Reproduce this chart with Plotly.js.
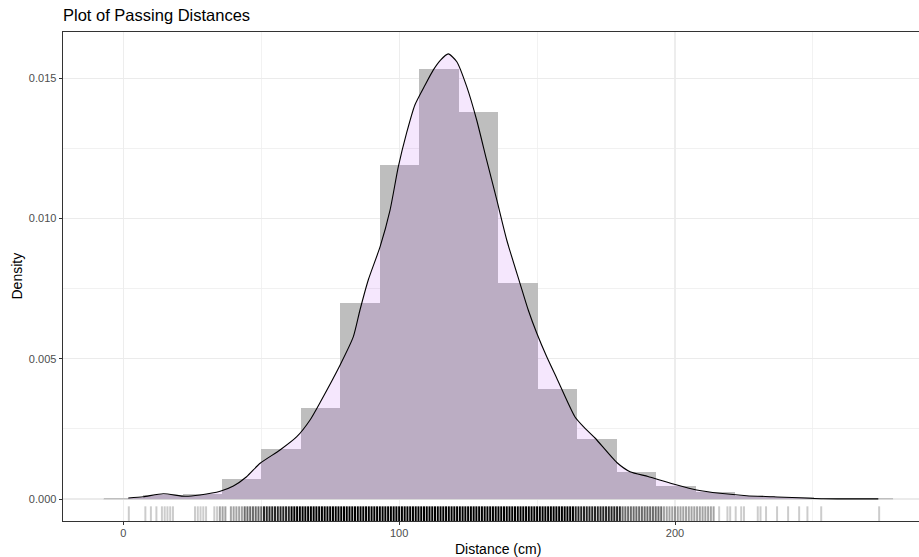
<!DOCTYPE html>
<html><head><meta charset="utf-8">
<script src="https://cdn.plot.ly/plotly-3.0.1.min.js"></script>
<style>html,body{margin:0;padding:0;background:#fff}#chart{width:919px;height:557px}</style>
</head><body><div id="chart"></div>
<script>
// ---- data ----
const binCenters = [0, 14.31, 28.62, 42.93, 57.24, 71.55, 85.86, 100.17, 114.48, 128.79, 143.10, 157.41, 171.72, 186.03, 200.34, 214.65, 228.96, 243.27, 257.58, 271.89];
const binDensity = [0.00003, 0.00016, 0.00018, 0.000714, 0.00178, 0.00324, 0.00699, 0.0119, 0.01532, 0.01379, 0.0077, 0.00393, 0.00214, 0.00095, 0.00046, 0.00024, 0.00012, 0.00006, 0.00003, 0.00003];
const binWidth = 14.31;

const densX = [1.8, 7.3, 14.5, 22.4, 27.8, 35.1, 39.9, 44.7, 49.6, 56.8, 62.9, 67.7, 71.3, 78.6, 83.4, 85.8, 88.8, 93.1, 96.7, 99.7, 102.7, 105.7, 109.4, 112.4, 115.0, 117.8, 120.9, 124.5, 128.1, 131.7, 135.4, 139.0, 143.8, 146.8, 149.9, 153.5, 157.1, 163.7, 166.8, 171.0, 178.9, 183.7, 190.2, 199.4, 207.9, 216.3, 226.0, 235.6, 253.8, 273.7];
const densY = [0.000036, 0.000082, 0.000189, 0.000096, 0.000143, 0.000275, 0.000464, 0.000795, 0.001273, 0.001747, 0.002221, 0.002817, 0.003434, 0.004778, 0.005787, 0.006739, 0.007808, 0.008996, 0.01030, 0.011848, 0.01305, 0.01405, 0.01476, 0.01530, 0.01565, 0.01587, 0.01559, 0.0147, 0.013513, 0.012087, 0.010661, 0.009235, 0.007691, 0.006739, 0.005908, 0.00507, 0.004314, 0.002934, 0.00258, 0.002175, 0.001301, 0.000973, 0.000802, 0.000535, 0.000321, 0.000203, 0.000118, 0.000082, 0.000011, 0.000005];

// rug values (cm), grouped by how dark the stacked rug looks
const rugLight = [2, 8, 10, 12, 14, 15, 16, 17, 18, 26, 27, 28, 29, 30, 33, 34, 216, 219, 220, 222, 224, 225, 230, 231, 233, 237, 241, 245, 248, 253, 274];
const rugPale = [35, 36, 37, 39, 40, 41, 42, 43, 196, 197, 198, 199, 200, 201, 202, 203, 204, 205, 206, 207, 208, 209, 210, 211, 212, 213, 214];
const rugGray = [44, 45, 46, 47, 48, 49, 50, 181, 182, 183, 184, 185, 186, 187, 188, 189, 190, 191, 192, 193, 194, 195];
const rugDark = [51, 52, 53, 54, 55, 56, 57, 58, 59, 60, 164, 165, 166, 167, 168, 169, 170, 171, 172, 173, 174, 175, 176, 177, 178, 179, 180];
const rugBlack = [61, 62, 63, 64, 65, 66, 67, 68, 69, 70, 71, 72, 73, 74, 75, 76, 77, 78, 79, 80, 81, 82, 83, 84, 85, 86, 87, 88, 89, 90, 91, 92, 93, 94, 95, 96, 97, 98, 99, 100, 101, 102, 103, 104, 105, 106, 107, 108, 109, 110, 111, 112, 113, 114, 115, 116, 117, 118, 119, 120, 121, 122, 123, 124, 125, 126, 127, 128, 129, 130, 131, 132, 133, 134, 135, 136, 137, 138, 139, 140, 141, 142, 143, 144, 145, 146, 147, 148, 149, 150, 151, 152, 153, 154, 155, 156, 157, 158, 159, 160, 161, 162, 163];

const xTicks = [0, 100, 200];
const yTicks = [0, 0.005, 0.010, 0.015];
const yTickText = ['0.000', '0.005', '0.010', '0.015'];

// ---- build ----
const FONT = 'Liberation Sans, Arial, Helvetica, sans-serif';

function rugTrace(vals, opacity) {
  const xs = [], ys = [];
  vals.forEach(v => { xs.push(v, v, null); ys.push(0, 0.03, null); });
  return {type: 'scatter', mode: 'lines', x: xs, y: ys, yaxis: 'y2',
    line: {color: 'rgba(0,0,0,' + opacity + ')', width: 2.0},
    hoverinfo: 'skip', showlegend: false};
}

const traces = [
  {type: 'bar', x: binCenters, y: binDensity, width: binWidth,
   marker: {color: '#BEBEBE', line: {width: 0}}, hoverinfo: 'skip', showlegend: false},
  {type: 'scatter', mode: 'lines',
   x: [binCenters[0] - binWidth / 2, binCenters[binCenters.length - 1] + binWidth / 2], y: [0, 0],
   line: {color: '#BEBEBE', width: 0.8}, hoverinfo: 'skip', showlegend: false},
  {type: 'scatter', mode: 'lines', x: densX, y: densY, fill: 'tozeroy',
   fillcolor: 'rgba(160,32,240,0.11)',
   line: {color: '#000000', width: 1.1, shape: 'spline', smoothing: 0.6},
   hoverinfo: 'skip', showlegend: false},
  rugTrace(rugLight, 0.2),
  rugTrace(rugPale, 0.36),
  rugTrace(rugGray, 0.58),
  rugTrace(rugDark, 0.85),
  rugTrace(rugBlack, 1.0)
];

const layout = {
  width: 919, height: 557,
  margin: {l: 63, r: 0, t: 32, b: 36, pad: 0},
  paper_bgcolor: '#FFFFFF', plot_bgcolor: '#FFFFFF',
  font: {family: FONT, color: '#000000'},
  showlegend: false, bargap: 0,
  title: {text: 'Plot of Passing Distances', font: {family: FONT, size: 16.5, color: '#000000'},
    xref: 'container', yref: 'container', x: 63 / 919, xanchor: 'left', y: 1 - 15.5 / 557, yanchor: 'middle'},
  xaxis: {
    range: [-21.86, 288.45], tickmode: 'array', tickvals: xTicks, ticktext: xTicks.map(String),
    ticks: 'outside', ticklen: 3.4, tickwidth: 1, tickcolor: '#333333', ticklabelstandoff: -2,
    tickfont: {family: FONT, size: 11, color: '#4D4D4D'},
    showgrid: true, gridcolor: '#EDEDED', gridwidth: 1.1,
    minor: {dtick: 50, tick0: 0, showgrid: true, gridcolor: '#EFEFEF', gridwidth: 0.8, ticks: ''},
    zeroline: false, showline: true, linecolor: '#333333', linewidth: 1, mirror: true,
    fixedrange: true
  },
  yaxis: {
    range: [-0.000784, 0.01665], tickmode: 'array', tickvals: yTicks, ticktext: yTickText,
    ticks: 'outside', ticklen: 3.4, tickwidth: 1, tickcolor: '#333333',
    tickfont: {family: FONT, size: 11, color: '#4D4D4D'},
    showgrid: true, gridcolor: '#EBEBEB', gridwidth: 1.1,
    minor: {dtick: 0.0025, tick0: 0, showgrid: true, gridcolor: '#EDEDED', gridwidth: 0.8, ticks: ''},
    zeroline: false, showline: true, linecolor: '#333333', linewidth: 1,
    fixedrange: true
  },
  yaxis2: {overlaying: 'y', range: [0, 1], visible: false, fixedrange: true},
  annotations: [
    {text: 'Distance (cm)', xref: 'paper', yref: 'paper', x: (498.3 - 63) / 856, y: (521 - 548.5) / 489,
     xanchor: 'center', yanchor: 'middle', showarrow: false, font: {family: FONT, size: 14, color: '#000000'}},
    {text: 'Density', xref: 'paper', yref: 'paper', x: (16 - 63) / 856, y: 0.5, textangle: -90,
     xanchor: 'center', yanchor: 'middle', showarrow: false, font: {family: FONT, size: 14, color: '#000000'}}
  ]
};

Plotly.newPlot('chart', traces, layout, {staticPlot: true, displayModeBar: false});
</script>
</body></html>
